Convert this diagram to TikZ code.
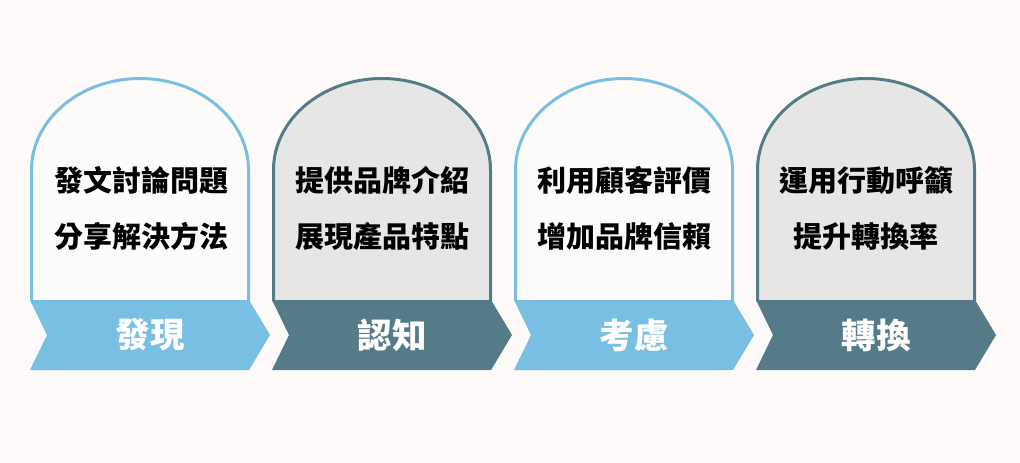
\documentclass[tikz,border=0pt]{standalone}
\usepackage{fontspec}
\newfontfamily\cjk{Noto Sans CJK TC}
\definecolor{bg}{RGB}{253,250,249}
\definecolor{lblue}{RGB}{121,191,228}
\definecolor{teal}{RGB}{84,123,135}
\definecolor{pale}{RGB}{254,252,251}
\definecolor{lgrey}{RGB}{230,230,231}
\tikzset{
  archA/.style={draw=lblue, line width=3pt, fill=pale},
  archB/.style={draw=teal, line width=3pt, fill=lgrey},
  bandA/.style={fill=lblue},
  bandB/.style={fill=teal},
  body/.style={font=\cjk\bfseries\fontsize{29}{56}\selectfont, align=center, text=black, inner sep=0pt},
  lab/.style={font=\cjk\bfseries\fontsize{34.5}{40}\selectfont, text=white, inner sep=0pt}
}
\begin{document}
\begin{tikzpicture}[x=1pt,y=-1pt]
\fill[bg] (0,0) rectangle (1020,463);
\useasboundingbox (0,0) rectangle (1020,463);
% arches
\foreach \xo/\st in {30/archA,272/archB,514/archA,756/archB}{
  \path[\st] (\xo+1.5,301) -- (\xo+1.5,170)
    arc[start angle=180,end angle=360,x radius=108.5,y radius=91.5]
    -- (\xo+218.5,301);
}
% bands
\foreach \xo/\st in {30/bandA,272/bandB,514/bandA,756/bandB}{
  \path[\st] (\xo,300) -- (\xo+219,300) -- (\xo+240,335) -- (\xo+219,370)
    -- (\xo,370) -- (\xo+17,335) -- cycle;
}
% texts
\node[body] (t1) at (141,208) {發文討論問題\\分享解決方法};
\node[body] (t2) at (382,208) {提供品牌介紹\\展現產品特點};
\node[body] (t3) at (624,208) {利用顧客評價\\增加品牌信賴};
\node[body] (t4) at (866,208) {運用行動呼籲\\提升轉換率};
\node[lab] (l1) at (150,335) {發現};
\node[lab] (l2) at (392,335) {認知};
\node[lab] (l3) at (634,335) {考慮};
\node[lab] (l4) at (876,335) {轉換};
\end{tikzpicture}
\end{document}
